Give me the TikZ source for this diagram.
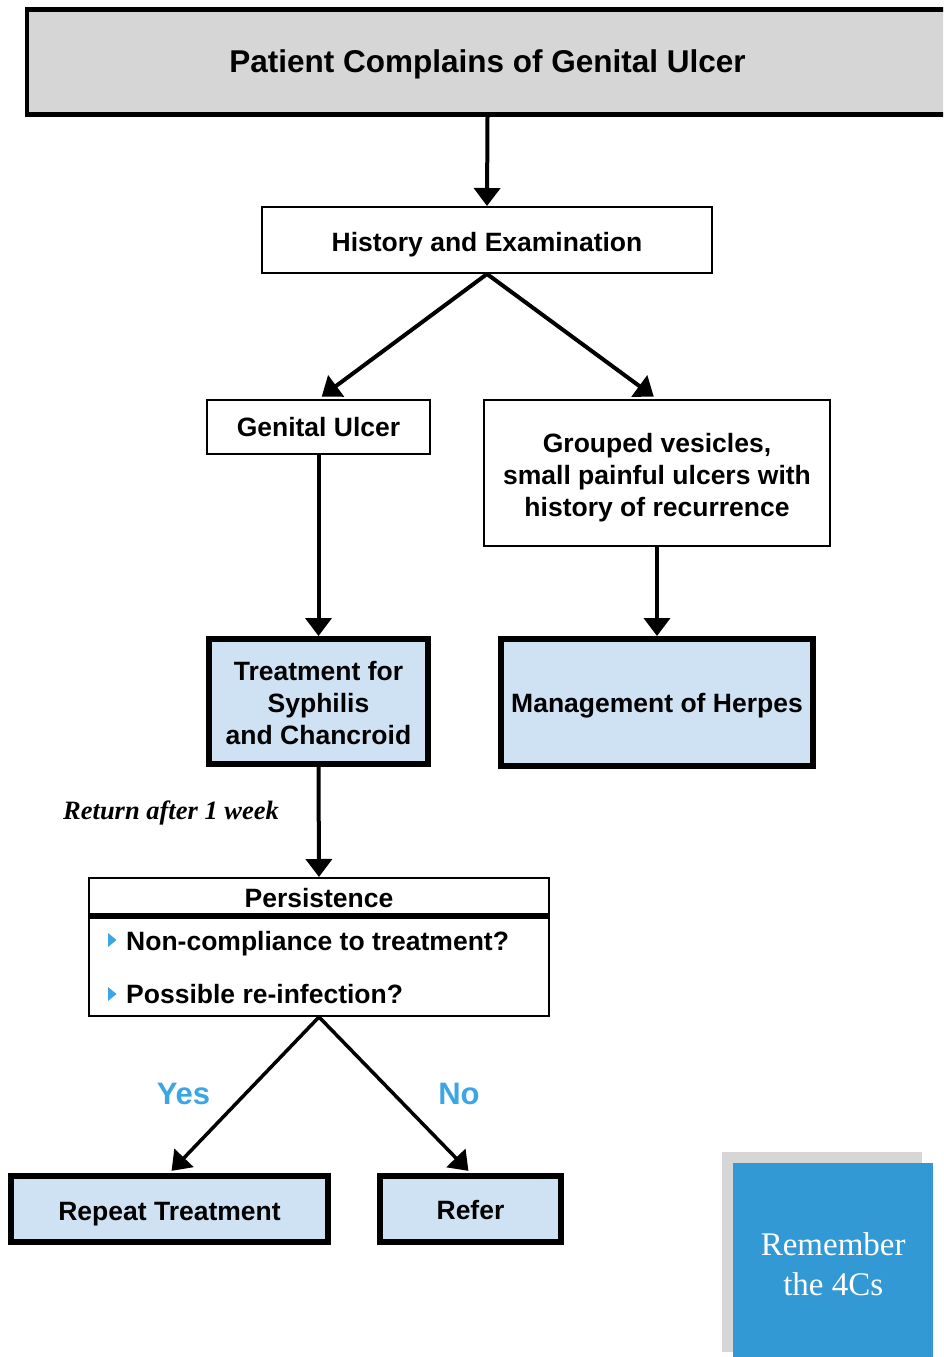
\documentclass[tikz,border=0pt]{standalone}
\usepackage{fontspec}
\setmainfont{Liberation Sans}
\newfontfamily\timesfam{Liberation Serif}
\usetikzlibrary{arrows.meta}

\definecolor{boxgray}{HTML}{D6D6D6}
\definecolor{boxblue}{HTML}{CFE2F3}
\definecolor{accent}{HTML}{3AA6E6}
\definecolor{notefill}{HTML}{3399D5}

% invisible strut that sets the height of a node's first line
\newcommand\topstrut[1]{\rule{0pt}{#1pt}}

\tikzset{
  txt/.style={font=\fontsize{26.5}{32}\selectfont\bfseries, align=center},
  thinbox/.style={txt, draw, line width=2pt, fill=white, inner sep=0pt},
  thickbox/.style={txt, draw, line width=6pt, fill=boxblue, inner sep=0pt},
  conn/.style={line width=4pt, -{Triangle[length=18pt,width=26pt]}},
  answer/.style={font=\fontsize{31}{36}\selectfont\bfseries, text=accent},
}

\begin{document}
\begin{tikzpicture}[x=1pt,y=-1pt]
\clip (0,0) rectangle (943,1357);
\fill[white] (0,0) rectangle (943,1357);

% title box (runs off the right edge)
\node[txt, draw, line width=4.5pt, fill=boxgray, inner sep=0pt,
      minimum width=921pt, minimum height=105pt,
      font=\fontsize{31.5}{36}\selectfont\bfseries] (top) at (487.5,62) {\topstrut{27}Patient Complains of Genital Ulcer};

\node[thinbox, minimum width=450pt, minimum height=66pt] (hist) at (487,240) {\topstrut{27.5}History and Examination};
\node[thinbox, minimum width=223pt, minimum height=54pt] (gu) at (318.5,427) {Genital Ulcer};
\node[thinbox, minimum width=346pt, minimum height=146pt] (gv) at (657,473)
  {\topstrut{27.5}Grouped vesicles,\\small painful ulcers with\\history of recurrence};

\node[thickbox, minimum width=219pt, minimum height=125pt] (treat) at (318.5,701.5)
  {\topstrut{21.5}Treatment for\\Syphilis\\and Chancroid};
\node[thickbox, minimum width=312pt, minimum height=127pt] (herp) at (657,702.5) {\topstrut{25.5}Management of Herpes};

\node[font=\timesfam\fontsize{26.5}{32}\selectfont\bfseries\itshape, anchor=west, inner sep=0pt]
  (ret) at (63,810) {\topstrut{24.5}Return after 1 week};

% persistence box with header and two questions
\node[draw, line width=2pt, fill=white, inner sep=0pt, minimum width=460pt, minimum height=138pt]
  (pers) at (319,947) {};
\draw[line width=6pt] (pers.west |- 0,916) -- (pers.east |- 0,916);
\node[txt] (perstitle) at (319,898) {Persistence};
\node[txt, anchor=west, inner sep=0pt] (q1) at (126,940) {\topstrut{25.5}Non-compliance to treatment?};
\node[txt, anchor=west, inner sep=0pt] (q2) at (126,994) {Possible re-infection?};
\fill[accent] (108,933) -- (116.5,940) -- (108,947) -- cycle;
\fill[accent] (108,987) -- (116.5,994) -- (108,1001) -- cycle;

\node[thickbox, minimum width=317pt, minimum height=66pt] (rep) at (169.5,1209) {\topstrut{27.5}Repeat Treatment};
\node[thickbox, minimum width=181pt, minimum height=66pt] (refer) at (470.5,1209) {\topstrut{21.5}Refer};

\node[answer] (yes) at (183.5,1094) {Yes};
\node[answer] (no) at (459,1094) {No};

% note card with shadow
\fill[boxgray] (722,1152) rectangle (922,1352);
\node[fill=notefill, minimum width=200pt, minimum height=200pt, inner sep=0pt, anchor=north west,
      text=white, align=center, font=\timesfam\fontsize{33}{40}\selectfont] (note) at (733,1163)
  {\topstrut{25.5}Remember\\the 4Cs};

% connectors
\draw[conn] (top.south) -- (hist.north);
\draw[conn, shorten >=4pt] (hist.south) -- (gu.north);
\draw[conn, shorten >=4pt] (hist.south) -- (gv.north);
\draw[conn] (gu.south) -- (treat.north);
\draw[conn] (gv.south) -- (herp.north);
\draw[conn] (treat.south) -- (pers.north);
\draw[conn, line width=3.5pt, shorten >=3pt] (pers.south) -- (rep.north);
\draw[conn, line width=3.5pt, shorten >=3pt] (pers.south) -- (refer.north);
\end{tikzpicture}
\end{document}
